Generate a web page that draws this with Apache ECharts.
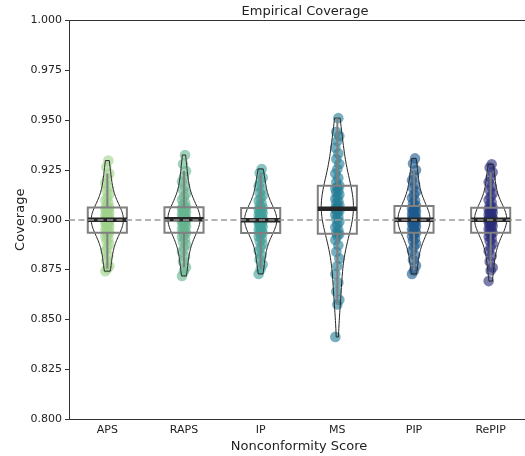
<!DOCTYPE html>
<html>
<head>
<meta charset="utf-8">
<script src="https://cdn.jsdelivr.net/npm/echarts@6/dist/echarts.min.js"></script>
<style>
  html, body { margin: 0; padding: 0; background: #fff; }
  #chart { width: 525px; height: 456px; }
</style>
</head>
<body>
<div id="chart"></div>
<script>
// ====== data ======
const categories = ['APS', 'RAPS', 'IP', 'MS', 'PIP', 'RePIP'];
const palette = ['#a0d28c', '#66b590', '#41a099', '#257e96', '#1f5a8e', '#2b2e7a'];
const targetLine = 0.9;
const yMin = 0.8, yMax = 1.0, yStep = 0.025;

const apsValues = [
  0.8742, 0.8755, 0.8768, 0.8795, 0.8820, 0.8843, 0.8861, 0.8878, 0.8893, 0.8905, 0.8917, 0.8926,
  0.8934, 0.8938, 0.8945, 0.8952, 0.8960, 0.8966, 0.8972, 0.8979, 0.8985, 0.8990, 0.8994, 0.8997,
  0.8999, 0.9000, 0.9003, 0.9008, 0.9013, 0.9019, 0.9024, 0.9030, 0.9036, 0.9042, 0.9048, 0.9053, 0.9058,
  0.9063, 0.9072, 0.9085, 0.9098, 0.9112, 0.9128, 0.9145, 0.9163, 0.9184, 0.9207, 0.9232, 0.9265, 0.9297
];
const rapsValues = [
  0.8718, 0.8741, 0.8762, 0.8790, 0.8815, 0.8838, 0.8858, 0.8876, 0.8891, 0.8904, 0.8915, 0.8925,
  0.8933, 0.8938, 0.8946, 0.8953, 0.8961, 0.8968, 0.8975, 0.8982, 0.8988, 0.8993, 0.8997, 0.9000,
  0.9002, 0.9003, 0.9005, 0.9010, 0.9015, 0.9021, 0.9027, 0.9033, 0.9039, 0.9045, 0.9050, 0.9055, 0.9059,
  0.9064, 0.9074, 0.9087, 0.9101, 0.9116, 0.9132, 0.9150, 0.9170, 0.9192, 0.9216, 0.9245, 0.9280, 0.9325
];
const ipValues = [
  0.8728, 0.8752, 0.8775, 0.8800, 0.8822, 0.8843, 0.8862, 0.8878, 0.8892, 0.8905, 0.8916, 0.8926,
  0.8933, 0.8937, 0.8944, 0.8951, 0.8958, 0.8965, 0.8972, 0.8978, 0.8984, 0.8989, 0.8993, 0.8996,
  0.8997, 0.8998, 0.9001, 0.9006, 0.9011, 0.9016, 0.9022, 0.9028, 0.9034, 0.9040, 0.9045, 0.9050, 0.9055,
  0.9060, 0.9070, 0.9082, 0.9095, 0.9108, 0.9120, 0.9136, 0.9152, 0.9170, 0.9190, 0.9212, 0.9235, 0.9255
];
const msValues = [
  0.8412, 0.8575, 0.8598, 0.8640, 0.8685, 0.8728, 0.8768, 0.8805, 0.8840, 0.8872, 0.8898, 0.8918,
  0.8928, 0.8935, 0.8948, 0.8962, 0.8976, 0.8990, 0.9003, 0.9015, 0.9026, 0.9036, 0.9044, 0.9050, 0.9053,
  0.9057, 0.9064, 0.9073, 0.9083, 0.9094, 0.9105, 0.9116, 0.9127, 0.9138, 0.9148, 0.9157, 0.9165,
  0.9172, 0.9190, 0.9210, 0.9232, 0.9255, 0.9280, 0.9305, 0.9332, 0.9362, 0.9395, 0.9420, 0.9442, 0.9510
];
const pipValues = [
  0.8728, 0.8745, 0.8770, 0.8798, 0.8822, 0.8845, 0.8864, 0.8880, 0.8894, 0.8906, 0.8917, 0.8927,
  0.8934, 0.8938, 0.8945, 0.8952, 0.8959, 0.8966, 0.8973, 0.8979, 0.8985, 0.8990, 0.8994, 0.8997,
  0.8998, 0.9002, 0.9007, 0.9012, 0.9017, 0.9023, 0.9029, 0.9035, 0.9041, 0.9046, 0.9051, 0.9056,
  0.9061, 0.9071, 0.9083, 0.9096, 0.9110, 0.9125, 0.9141, 0.9158, 0.9177, 0.9198, 0.9222, 0.9250, 0.9282, 0.9308
];
const repipValues = [
  0.8692, 0.8745, 0.8760, 0.8790, 0.8818, 0.8842, 0.8862, 0.8879, 0.8893, 0.8905, 0.8916, 0.8926,
  0.8934, 0.8938, 0.8945, 0.8953, 0.8960, 0.8967, 0.8974, 0.8981, 0.8987, 0.8992, 0.8996, 0.8999,
  0.9000, 0.9001, 0.9004, 0.9009, 0.9014, 0.9019, 0.9025, 0.9031, 0.9037, 0.9042, 0.9047, 0.9052, 0.9056,
  0.9062, 0.9073, 0.9086, 0.9100, 0.9115, 0.9131, 0.9148, 0.9167, 0.9188, 0.9212, 0.9238, 0.9262, 0.9278
];
const allValues = [apsValues, rapsValues, ipValues, msValues, pipValues, repipValues];

// ====== stats ======
function quantile(sorted, q) {
  const pos = (sorted.length - 1) * q;
  const lo = Math.floor(pos), hi = Math.ceil(pos);
  return sorted[lo] + (sorted[hi] - sorted[lo]) * (pos - lo);
}

function boxStats(vals) {
  const s = vals.slice().sort((a, b) => a - b);
  const q1 = quantile(s, 0.25), med = quantile(s, 0.5), q3 = quantile(s, 0.75);
  const iqr = q3 - q1;
  const lowFence = q1 - 1.5 * iqr, highFence = q3 + 1.5 * iqr;
  const low = s.find(v => v >= lowFence);
  const high = s.slice().reverse().find(v => v <= highFence);
  return { q1, med, q3, low, high };
}

// gaussian kde, Scott's rule, cut at data range
function kde(vals, steps) {
  const n = vals.length;
  const mean = vals.reduce((a, b) => a + b, 0) / n;
  const sd = Math.sqrt(vals.reduce((a, b) => a + (b - mean) * (b - mean), 0) / (n - 1));
  const bw = sd * Math.pow(n, -0.2);
  const lo = Math.min(...vals), hi = Math.max(...vals);
  const ys = [], dens = [];
  for (let k = 0; k <= steps; k++) {
    const y = lo + (hi - lo) * k / steps;
    let d = 0;
    vals.forEach(v => { const z = (y - v) / bw; d += Math.exp(-0.5 * z * z); });
    ys.push(y); dens.push(d);
  }
  return { ys, dens, peak: Math.max(...dens) };
}

const stats = allValues.map(boxStats);
const kdes = allValues.map(v => kde(v, 80));

function withAlpha(hex, a) {
  const n = parseInt(hex.slice(1), 16);
  return `rgba(${(n >> 16) & 255},${(n >> 8) & 255},${n & 255},${a})`;
}

// ====== renderers ======
function renderPoint(params, api) {
  const ci = api.value(0);
  const idx = api.value(2);
  const pt = api.coord([ci, api.value(1)]);
  const jitter = (((idx * 37) % 5) - 2) * 1.0;
  return {
    type: 'circle',
    shape: { cx: pt[0] + jitter, cy: pt[1], r: 5.3 },
    style: { fill: withAlpha(palette[ci], 0.62) }
  };
}

function renderViolin(params, api) {
  const ci = api.value(0);
  const k = kdes[ci];
  const band = api.size([1, 0])[0];
  const maxHalf = band * 0.21;
  const cx = api.coord([ci, targetLine])[0];
  const right = [], left = [];
  k.ys.forEach((y, j) => {
    const py = api.coord([ci, y])[1];
    const w = k.dens[j] / k.peak * maxHalf;
    right.push([cx + w, py]);
    left.unshift([cx - w, py]);
  });
  return {
    type: 'polygon',
    shape: { points: right.concat(left) },
    style: { fill: 'none', stroke: '#262626', lineWidth: 1 }
  };
}

function renderBox(params, api) {
  const ci = api.value(0);
  const st = stats[ci];
  const band = api.size([1, 0])[0];
  const half = band * 0.255;
  const cx = api.coord([ci, st.med])[0];
  const yq1 = api.coord([ci, st.q1])[1];
  const yq3 = api.coord([ci, st.q3])[1];
  const yMed = api.coord([ci, st.med])[1];
  const yLow = api.coord([ci, st.low])[1];
  const yHigh = api.coord([ci, st.high])[1];
  const grey = { stroke: '#808080', lineWidth: 2, fill: 'none' };
  return {
    type: 'group',
    children: [
      { type: 'line', shape: { x1: cx, y1: yq3, x2: cx, y2: yHigh }, style: grey },
      { type: 'line', shape: { x1: cx, y1: yq1, x2: cx, y2: yLow }, style: grey },
      { type: 'rect', shape: { x: cx - half, y: yq3, width: half * 2, height: yq1 - yq3 }, style: grey },
      { type: 'line', shape: { x1: cx - half, y1: yMed, x2: cx + half, y2: yMed },
        style: { stroke: '#262626', lineWidth: 4.5 } }
    ]
  };
}

// ====== chart ======
const pointData = [];
allValues.forEach((vals, ci) => vals.forEach((v, i) => pointData.push([ci, v, i])));
const catData = categories.map((c, ci) => [ci, targetLine]);

const font = 'DejaVu Sans';
const ink = '#222';
const spine = { color: '#333', width: 1 };

// white strips over the cropped right edge (the original has no right spine there)
const edgeMask = { fill: '#fff' };

const chart = echarts.init(document.getElementById('chart'), null, { renderer: 'canvas' });
chart.setOption({
  animation: false,
  backgroundColor: '#fff',
  title: {
    text: 'Empirical Coverage',
    left: 300, top: 0, textAlign: 'center',
    textStyle: { fontFamily: font, fontSize: 13, fontWeight: 'normal', color: ink }
  },
  graphic: [
    { type: 'rect', z: 100, silent: true, shape: { x: 519, y: 22, width: 6, height: 196.5 }, style: edgeMask },
    { type: 'rect', z: 100, silent: true, shape: { x: 519, y: 221, width: 6, height: 197 }, style: edgeMask }
  ],
  grid: {
    left: 69, top: 20.5, width: 460, height: 398.5,
    outerBoundsMode: 'none', containLabel: false
  },
  xAxis: [
    {
      type: 'category',
      data: categories,
      name: 'Nonconformity Score',
      nameLocation: 'middle',
      nameGap: 21,
      nameMoveOverlap: false,
      nameTextStyle: { fontFamily: font, fontSize: 13, color: ink },
      axisLine: { lineStyle: spine },
      axisTick: { alignWithLabel: true, length: 4, lineStyle: { color: '#333' } },
      axisLabel: { fontFamily: font, fontSize: 11, color: ink, margin: 6 },
      splitLine: { show: false }
    },
    {
      // top spine only
      type: 'category', position: 'top', data: categories,
      axisLine: { lineStyle: spine },
      axisTick: { show: false }, axisLabel: { show: false }, splitLine: { show: false }
    }
  ],
  yAxis: {
    type: 'value',
    min: yMin, max: yMax, interval: yStep,
    name: 'Coverage',
    nameLocation: 'middle',
    nameGap: 42,
    nameMoveOverlap: false,
    nameTextStyle: { fontFamily: font, fontSize: 13, color: ink },
    axisLine: { show: true, lineStyle: spine },
    axisTick: { show: true, length: 4, lineStyle: { color: '#333' } },
    axisLabel: { fontFamily: font, fontSize: 11, color: ink, margin: 7,
      formatter: v => v.toFixed(3) },
    splitLine: { show: false }
  },
  series: [
    {
      type: 'line', data: [], z: 1,
      markLine: {
        silent: true, symbol: 'none', label: { show: false },
        lineStyle: { type: [6, 3.5], color: '#999', width: 1.5 },
        data: [{ yAxis: targetLine }]
      }
    },
    { type: 'custom', z: 2, renderItem: renderPoint, data: pointData, encode: { x: 0, y: 1 } },
    { type: 'custom', z: 3, renderItem: renderViolin, data: catData, encode: { x: 0, y: 1 } },
    { type: 'custom', z: 4, renderItem: renderBox, data: catData, encode: { x: 0, y: 1 } }
  ]
});
</script>
</body>
</html>
